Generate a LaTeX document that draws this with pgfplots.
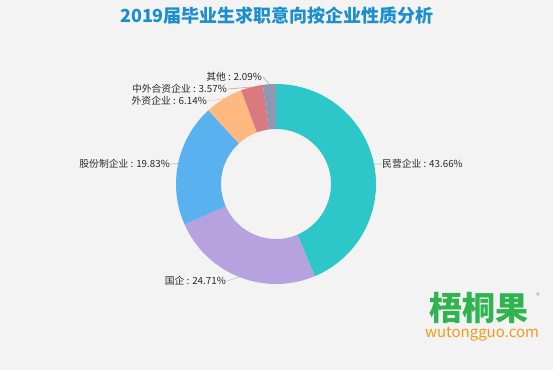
\documentclass[border=0pt]{standalone}
\usepackage{pgfplots}
\pgfplotsset{compat=1.18}
\usepackage{fontspec}
\setmainfont{Noto Sans CJK SC}
\definecolor{bg}{HTML}{F3F3F3}
\definecolor{c1}{HTML}{2EC7C9}
\definecolor{c2}{HTML}{B6A2DE}
\definecolor{c3}{HTML}{5AB1EF}
\definecolor{c4}{HTML}{FFB980}
\definecolor{c5}{HTML}{D87A80}
\definecolor{c6}{HTML}{8D98B3}
\definecolor{titlec}{HTML}{1B8ED0}
\definecolor{lab}{HTML}{2A2A2A}
\definecolor{wgreen}{HTML}{2FB450}
\definecolor{worange}{HTML}{F39A1E}
\def\cx{276}\def\cy{184}
\gdef\cum{90}
% #1 value, #2 colour, #3 name, #4 label x, #5 label y, #6 anchor
\newcommand\slice[6]{%
  \pgfmathsetmacro\aS{\cum}%
  \pgfmathsetmacro\aE{\cum-3.6*#1}%
  \pgfmathsetmacro\aM{(\aS+\aE)/2}%
  \xdef\cum{\aE}%
  \edef\doit{%
    \noexpand\fill[#2] ([shift={(\aS:100pt)}]axis cs:\cx,\cy) arc[start angle=\aS, end angle=\aE, radius=100pt]
      -- ([shift={(\aE:55pt)}]axis cs:\cx,\cy) arc[start angle=\aE, end angle=\aS, radius=55pt] -- cycle;
    \noexpand\draw[#2!80!white, line width=0.6pt] ([shift={(\aM:100pt)}]axis cs:\cx,\cy) -- (axis cs:#4,#5);
    \noexpand\node[anchor=#6, inner sep=1pt, text=lab, font=\noexpand\fontsize{9.8}{10}\noexpand\selectfont] at (axis cs:#4,#5) {#3 : #1\noexpand\%};
  }%
  \doit
}
\begin{document}
\begin{tikzpicture}
\begin{axis}[
  width=553pt, height=370pt, scale only axis,
  xmin=0, xmax=553, ymin=0, ymax=370, y dir=reverse,
  hide axis, clip=false,
]
\fill[bg] (axis cs:0,0) rectangle (axis cs:553,370);
\slice{43.66}{c1}{民营企业}{381}{164}{west}
\slice{24.71}{c2}{国企}{227}{281}{east}
\slice{19.83}{c3}{股份制企业}{171}{164}{east}
\slice{6.14}{c4}{外资企业}{208}{101}{east}
\slice{3.57}{c5}{中外合资企业}{228}{89}{east}
\slice{2.09}{c6}{其他}{263}{77}{east}
\node[font=\fontsize{18}{20}\bfseries\selectfont, text=titlec] at (axis cs:277,16) {2019届毕业生求职意向按企业性质分析};
\node[font=\fontsize{33}{36}\bfseries\selectfont, text=wgreen, inner sep=0pt] at (axis cs:479,308) {梧桐果};
\node[font=\fontsize{15}{16}\selectfont, text=worange, inner sep=0pt] at (axis cs:482,334) {wutongguo.com};
\node[font=\fontsize{7}{7}\selectfont, text=gray, inner sep=0pt] at (axis cs:538,296) {®};
\end{axis}
\end{tikzpicture}
\end{document}
